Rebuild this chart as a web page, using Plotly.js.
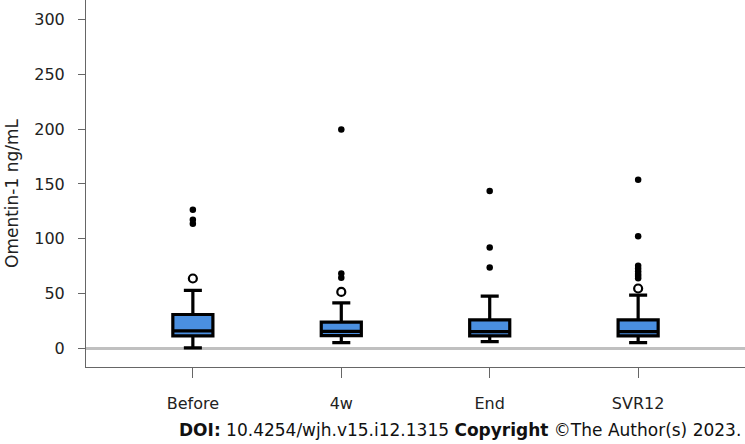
<!DOCTYPE html>
<html>
<head>
<meta charset="utf-8">
<script src="https://cdn.plot.ly/plotly-3.0.1.min.js"></script>
<style>html,body{margin:0;padding:0;background:#fff;}#chart{width:745px;height:444px;}</style>
</head>
<body>
<div id="chart"></div>
<script>
// Categories and box statistics (ng/mL)
var categories = ["Before", "4w", "End", "SVR12"];
var q1 = [11.5, 11.8, 11.5, 11.4];
var medians = [16, 15.5, 15.3, 15.3];
var q3 = [31, 24, 26, 26];
var lowerWhisker = [0.5, 5.3, 6.2, 5.3];
var upperWhisker = [53, 41.5, 47.7, 48.6];

// Outliers
var openOutX = ["Before", "4w", "SVR12"];
var openOutY = [63.8, 51.6, 54.7];
var farOutX = ["Before", "Before", "Before", "4w", "4w", "4w", "End", "End", "End",
               "SVR12", "SVR12", "SVR12", "SVR12", "SVR12", "SVR12", "SVR12", "SVR12"];
var farOutY = [126.5, 117.5, 113.8, 199.8, 68.4, 64.4, 143.5, 92, 73.8,
               153.8, 102.3, 75.5, 73, 70.5, 68, 66, 64];

var yTicks = [0, 50, 100, 150, 200, 250, 300];

var font = "DejaVu Sans, Verdana, sans-serif";

var traces = [
  {
    type: "box",
    x: categories,
    q1: q1, median: medians, q3: q3,
    lowerfence: lowerWhisker, upperfence: upperWhisker,
    boxpoints: false,
    width: 0.27,
    whiskerwidth: 0.45,
    fillcolor: "#4a8fe0",
    line: {color: "#000000", width: 3.2},
    hoverinfo: "skip"
  },
  {
    type: "scatter", mode: "markers",
    x: openOutX, y: openOutY,
    marker: {symbol: "circle-open", size: 8, color: "#000", line: {width: 2.2, color: "#000"}},
    hoverinfo: "skip"
  },
  {
    type: "scatter", mode: "markers",
    x: farOutX, y: farOutY,
    marker: {symbol: "circle", size: 6.5, color: "#000"},
    hoverinfo: "skip"
  }
];

var layout = {
  width: 745, height: 444,
  margin: {l: 86, r: 0, t: 0, b: 77},
  paper_bgcolor: "#fff", plot_bgcolor: "#fff",
  showlegend: false,
  hovermode: false,
  font: {family: font, size: 16, color: "#222"},
  xaxis: {
    type: "category",
    categoryorder: "array", categoryarray: categories,
    range: [-0.72, 3.72],
    showline: true, linecolor: "#666", linewidth: 1,
    ticks: "outside", ticklen: 10, tickcolor: "#666",
    showgrid: false, zeroline: false,
    tickfont: {family: font, size: 16, color: "#222"},
    ticklabelstandoff: 12
  },
  yaxis: {
    range: [-16.9, 317.8],
    tickvals: yTicks,
    ticktext: yTicks.map(String),
    showline: true, linecolor: "#666", linewidth: 1,
    ticks: "outside", ticklen: 7, tickcolor: "#666",
    showgrid: false,
    zeroline: true, zerolinecolor: "#c0c0c0", zerolinewidth: 3,
    tickfont: {family: font, size: 16, color: "#222"},
    ticklabelstandoff: 10
  },
  annotations: [
    {
      text: "Omentin-1 ng/mL",
      xref: "paper", yref: "paper",
      x: (12 - 86) / 659, y: (367 - 193) / 367,
      xanchor: "center", yanchor: "middle",
      textangle: -90, showarrow: false,
      font: {family: font, size: 17, color: "#222"}
    },
    {
      text: "<b>DOI:</b> 10.4254/wjh.v15.i12.1315 <b>Copyright</b> ©The Author(s) 2023.",
      xref: "paper", yref: "paper",
      x: (743 - 86) / 659, y: -(430 - 367) / 367,
      xanchor: "right", yanchor: "middle",
      showarrow: false,
      font: {family: font, size: 17, color: "#111"}
    }
  ]
};

Plotly.newPlot("chart", traces, layout, {staticPlot: true, displayModeBar: false});
</script>
</body>
</html>
